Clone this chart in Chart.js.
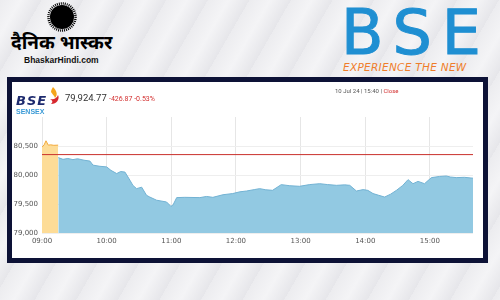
<!DOCTYPE html>
<html>
<head>
<meta charset="utf-8">
<script src="https://cdn.jsdelivr.net/npm/chart.js@4.4.1/dist/chart.umd.min.js"></script>
<style>
  html, body { margin: 0; padding: 0; }
  body {
    width: 500px; height: 300px; overflow: hidden; position: relative;
    background: repeating-linear-gradient(120deg, #ececef 0px, #f4f4f6 18px, #e6e6ea 36px);
    font-family: "DejaVu Sans", sans-serif;
  }
  .abs { position: absolute; white-space: nowrap; }
  #panel {
    position: absolute; left: 7px; top: 77px; width: 471px; height: 176px;
    border: 5px solid #0d1236; background: #fff;
  }
  #chartBox { position: absolute; left: 0; top: 0; width: 471px; height: 176px; }
</style>
</head>
<body>

<!-- Dainik Bhaskar logo -->
<svg class="abs" style="left:45px;top:1px" width="34" height="32">
  <circle cx="17" cy="16" r="12" fill="#000"/>
  <circle cx="17" cy="16" r="13.5" fill="none" stroke="#000" stroke-width="2.5" stroke-dasharray="1 1"/>
</svg>
<div class="abs" style="left:11px;top:32px;font-size:19px;font-weight:bold;color:#000;font-family:'Noto Sans Devanagari','Lohit Devanagari','Noto Sans',sans-serif;">दैनिक भास्कर</div>
<div class="abs" style="left:24px;top:55px;font-size:8.5px;font-weight:bold;color:#111;font-family:'Liberation Sans',sans-serif;">BhaskarHindi.com</div>

<!-- BSE logo -->
<div class="abs" style="left:341px;top:-3px;font-size:62px;line-height:72px;color:#1f8fd2;letter-spacing:10px;font-family:'DejaVu Sans';-webkit-text-stroke:1px #1f8fd2;">BSE</div>
<div class="abs" style="left:343px;top:61px;font-size:10.5px;color:#ef7d2a;font-style:italic;letter-spacing:0.3px;">EXPERIENCE THE NEW</div>

<div id="panel">
  <div id="chartBox"><canvas id="myChart" width="471" height="176"></canvas></div>
  <div class="abs" style="left:4px;top:11px;font-size:13px;font-weight:bold;font-style:italic;color:#1d2a6e;letter-spacing:1px;">BSE</div>
  <div class="abs" style="left:4px;top:26px;font-size:7px;font-weight:bold;color:#3a9ad6;font-family:'Liberation Sans',sans-serif;">SENSEX</div>
  <svg class="abs" style="left:36px;top:4px" width="14" height="20">
    <path d="M5 1 C9 5 10 9 7 12 C6 9 4 8 3 6 C3 4 4 3 5 1 Z" fill="#f4a51c"/>
    <path d="M2 13 C6 14 9 12 10 9 C12 13 9 18 3 18 C5 16 5 15 2 13 Z" fill="#d7282f"/>
  </svg>
  <div class="abs" style="left:53px;top:10px;font-size:9.5px;color:#333;font-family:Roboto,sans-serif;">79,924.77</div>
  <div class="abs" style="left:97px;top:13px;font-size:7px;color:#d32f2f;font-family:Roboto,sans-serif;">-426.87 -0.53%</div>
  <div class="abs" style="left:323px;top:5px;font-size:6px;color:#555;font-family:Roboto,sans-serif;">10 Jul 24 | 15:40 | <span style="color:#d32f2f">Close</span></div>
</div>

<script>
// minutes after 09:00
var timeLabels = ['09:00', '10:00', '11:00', '12:00', '13:00', '14:00', '15:00'];
var xTicks = [0, 60, 120, 180, 240, 300, 360];
var yTicks = [79000, 79500, 80000, 80500];

var preTimes = [0, 2, 3.7, 5.8, 8, 11, 15];
var preValues = [80480, 80520, 80590, 80515, 80520, 80512, 80515];

var times = [15.1, 19.5, 24, 28.7, 33, 39, 44.5, 47.3, 53.8, 60, 64, 69.3, 73, 77, 81.6, 84.4, 87.8, 92.5, 97, 100,
  106.4, 115.6, 119.6, 121.5, 125, 132.6, 146.5, 152.7, 158.6, 168, 177, 183.6, 189.8, 197.5, 202, 207.7, 214, 222, 230, 239,
  248.5, 257.8, 265, 273.3, 281, 285.6, 291.8, 298, 302.4, 307.2, 312.5, 318, 323.6, 329, 334.8, 339.7, 344.3, 349, 355, 361.4,
  369, 375.3, 379, 384.5, 392, 400];
var values = [80300, 80270, 80285, 80265, 80280, 80255, 80240, 80170, 80150, 80140, 80080, 80025, 80060, 80050, 79910, 79820, 79765, 79790, 79650, 79620,
  79565, 79535, 79460, 79480, 79610, 79615, 79610, 79630, 79615, 79660, 79680, 79710, 79724, 79750, 79765, 79745, 79736, 79834, 79815, 79805,
  79835, 79850, 79835, 79822, 79830, 79822, 79724, 79748, 79735, 79680, 79650, 79620, 79670, 79736, 79820, 79920, 79850, 79890, 79850, 79955,
  79975, 79983, 79965, 79955, 79960, 79945];

var prevClose = 80351.64;
var closeTimes = [0, 400];

function pts(xs, ys) {
  return xs.map(function (x, i) { return { x: x, y: ys[i] }; });
}

const ctx = document.getElementById('myChart').getContext('2d');
const myChart = new Chart(ctx, {
  type: 'line',
  data: {
    datasets: [{
      data: closeTimes.map(function (t) { return { x: t, y: prevClose }; }),
      borderColor: '#c9302c',
      borderWidth: 1,
      pointRadius: 0,
      fill: false
    }, {
      data: pts(preTimes, preValues),
      borderColor: '#f2a93b',
      backgroundColor: '#fddc97',
      borderWidth: 1,
      pointRadius: 0,
      tension: 0,
      fill: 'start'
    }, {
      data: pts(times, values),
      borderColor: '#72b2d3',
      backgroundColor: '#92c9e2',
      borderWidth: 1,
      pointRadius: 0,
      tension: 0,
      fill: 'start'
    }]
  },
  options: {
    responsive: false,
    animation: false,
    layout: { padding: { left: 0, right: 10, top: 35, bottom: 0 } },
    plugins: { legend: { display: false }, tooltip: { enabled: false } },
    scales: {
      x: {
        type: 'linear',
        min: 0,
        max: 400,
        afterBuildTicks: function (axis) { axis.ticks = xTicks.map(function (v) { return { value: v }; }); },
        afterFit: function (axis) { axis.height = 25; },
        ticks: {
          padding: 4,
          maxRotation: 0,
          color: '#555',
          font: { family: 'DejaVu Sans', size: 7 },
          callback: function (v) { return timeLabels[xTicks.indexOf(v)]; }
        },
        grid: { color: '#e6e6e6', drawTicks: false },
        border: { display: false }
      },
      y: {
        min: 79000,
        max: 81000,
        afterBuildTicks: function (axis) { axis.ticks = yTicks.map(function (v) { return { value: v }; }); },
        afterFit: function (axis) { axis.width = 30; },
        ticks: {
          padding: 4,
          color: '#555',
          font: { family: 'DejaVu Sans', size: 7 },
          callback: function (v) { return v.toLocaleString('en-US'); }
        },
        grid: { color: '#eeeeee', drawTicks: false },
        border: { display: false }
      }
    }
  }
});
</script>
</body>
</html>
